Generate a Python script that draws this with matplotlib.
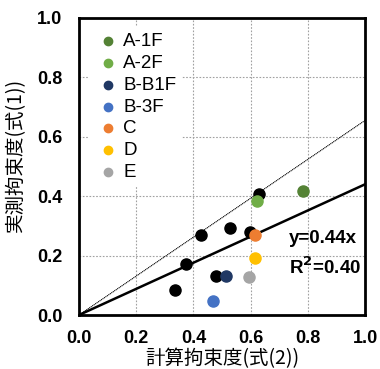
import numpy as np
import matplotlib.pyplot as plt

plt.rcParams['font.family'] = ['Liberation Sans', 'Noto Sans CJK JP', 'DejaVu Sans']

# black points (all data)
black_x = [0.629, 0.425, 0.529, 0.599, 0.373, 0.478, 0.334]
black_y = [0.407, 0.270, 0.293, 0.281, 0.171, 0.131, 0.084]

# labelled groups
groups = ['A-1F', 'A-2F', 'B-B1F', 'B-3F', 'C', 'D', 'E']
group_x = [0.784, 0.621, 0.515, 0.467, 0.615, 0.615, 0.594]
group_y = [0.416, 0.384, 0.131, 0.048, 0.269, 0.191, 0.129]
colors = ['#548235', '#70AD47', '#203864', '#4472C4', '#ED7D31', '#FFC000', '#A5A5A5']

slope_fit = 0.44
slope_thin = 0.655
ticks = [0.0, 0.2, 0.4, 0.6, 0.8, 1.0]

fig = plt.figure(figsize=(3.8, 3.69), dpi=100)
ax = fig.add_axes([79/380, 1 - 315/369, 286/380, 297/369])

ax.set_xlim(0, 1)
ax.set_ylim(0, 1)
ax.set_xticks(ticks)
ax.set_yticks(ticks)
ax.set_xticklabels([f'{t:.1f}' for t in ticks], fontweight='bold', fontsize=13)
ax.set_yticklabels([f'{t:.1f}' for t in ticks], fontweight='bold', fontsize=13)
ax.tick_params(axis='x', length=0, pad=11)
ax.tick_params(axis='y', length=0, pad=12)
ax.grid(True, color='#a0a0a0', linestyle=(0, (1.5, 1.5)), linewidth=0.8)
ax.set_axisbelow(True)
for s in ax.spines.values():
    s.set_linewidth(2)

xs = np.array([0, 1])
ax.plot(xs, slope_thin * xs, color='black', linestyle=(0, (1, 0.6)), linewidth=0.8)
ax.plot(xs, slope_fit * xs, color='black', linewidth=1.8)

ax.scatter(black_x, black_y, s=64, color='black', zorder=3)
for g, x, y, c in zip(groups, group_x, group_y, colors):
    ax.scatter([x], [y], s=64, color=c, zorder=4, label=g)

leg = ax.legend(loc='upper left', frameon=True, edgecolor='none', framealpha=1,
                fontsize=13.5, markerscale=0.75, handletextpad=0.05,
                labelspacing=0.25, borderaxespad=0.5, borderpad=0.3,
                handlelength=1.5)

ax.text(0.734, 0.256, 'y=0.44x', fontsize=13.5, fontweight='bold', va='center')
ax.text(0.734, 0.162, 'R$^\\mathbf{2}$=0.40', fontsize=13.5, fontweight='bold', va='center')

ax.set_xlabel('計算拘束度(式(2))', fontsize=14, family=['Noto Sans CJK JP'])
ax.set_ylabel('実測拘束度(式(1))', fontsize=14, family=['Noto Sans CJK JP'])
ax.xaxis.set_label_coords(0.5, -0.11)
ax.yaxis.set_label_coords(-0.185, 0.54)

fig.savefig('out.png', dpi=100)
